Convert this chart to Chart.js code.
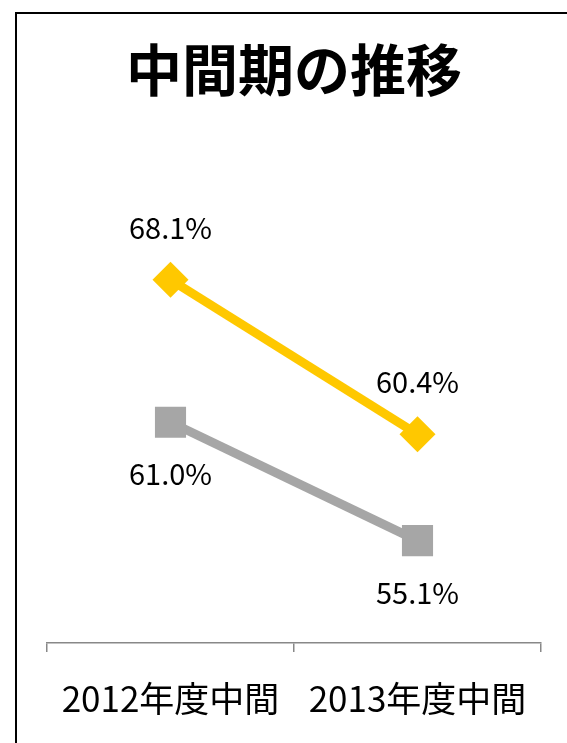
<!DOCTYPE html>
<html>
<head>
<meta charset="utf-8">
<script src="https://cdn.jsdelivr.net/npm/chart.js@4.4.0/dist/chart.umd.min.js"></script>
<style>
html,body{margin:0;padding:0;background:#fff;overflow:hidden;}
#wrap{position:relative;width:567px;height:743px;}
#frame{position:absolute;left:15px;top:12px;width:700px;height:900px;border:2px solid #000;box-sizing:border-box;}
canvas{position:absolute;left:0;top:0;}
</style>
</head>
<body>
<div id="wrap">
<div id="frame"></div>
<canvas id="c" width="567" height="743"></canvas>
</div>
<script>
const titleText = '中間期の推移';
const categories = ['2012年度中間', '2013年度中間'];
const seriesA = [68.1, 60.4];
const seriesB = [61.0, 55.1];
const labelsA = ['68.1%', '60.4%'];
const labelsB = ['61.0%', '55.1%'];

const FONT = '"Noto Sans CJK JP", "Noto Sans", sans-serif';

const dataLabels = {
  id: 'dataLabels',
  afterDatasetsDraw(chart) {
    const ctx = chart.ctx;
    ctx.save();
    ctx.font = '29px ' + FONT;
    ctx.fillStyle = '#000';
    ctx.textAlign = 'center';
    ctx.textBaseline = 'middle';
    chart.data.datasets.forEach((ds, i) => {
      const meta = chart.getDatasetMeta(i);
      meta.data.forEach((pt, j) => {
        const off = ds.labelPos === 'above' ? -52 : 52;
        ctx.fillText(ds.valueLabels[j], pt.x, pt.y + off);
      });
    });
    ctx.restore();
  }
};

new Chart(document.getElementById('c'), {
  type: 'line',
  data: {
    labels: categories,
    datasets: [
      {
        data: seriesA,
        valueLabels: labelsA,
        labelPos: 'above',
        borderColor: '#FFC800',
        backgroundColor: '#FFC800',
        borderWidth: 9,
        pointStyle: 'rectRot',
        pointRadius: 18,
        pointHoverRadius: 18,
        pointBorderWidth: 0,
        pointBackgroundColor: '#FFC800'
      },
      {
        data: seriesB,
        valueLabels: labelsB,
        labelPos: 'below',
        borderColor: '#A6A6A6',
        backgroundColor: '#A6A6A6',
        borderWidth: 9,
        pointStyle: 'rect',
        pointRadius: 22,
        pointHoverRadius: 22,
        pointBorderWidth: 0,
        pointBackgroundColor: '#A6A6A6'
      }
    ]
  },
  options: {
    responsive: false,
    animation: false,
    events: [],
    layout: { padding: { left: 47, right: 26, top: 0, bottom: -3 } },
    plugins: {
      legend: { display: false },
      tooltip: { enabled: false },
      title: {
        display: true,
        text: titleText,
        color: '#000',
        font: { family: FONT, size: 56, weight: 'bold' },
        padding: { top: 36, bottom: 38 }
      }
    },
    scales: {
      x: {
        offset: true,
        grid: {
          display: true,
          offset: true,
          drawOnChartArea: false,
          drawTicks: true,
          tickLength: 9,
          color: '#888888',
          lineWidth: 1.5
        },
        border: { display: true, color: '#888888', width: 1.5 },
        ticks: {
          color: '#000',
          font: { family: FONT, size: 35 },
          padding: 26,
          maxRotation: 0,
          autoSkip: false
        }
      },
      y: {
        display: false,
        min: 50,
        max: 75
      }
    }
  },
  plugins: [dataLabels]
});
</script>
</body>
</html>
